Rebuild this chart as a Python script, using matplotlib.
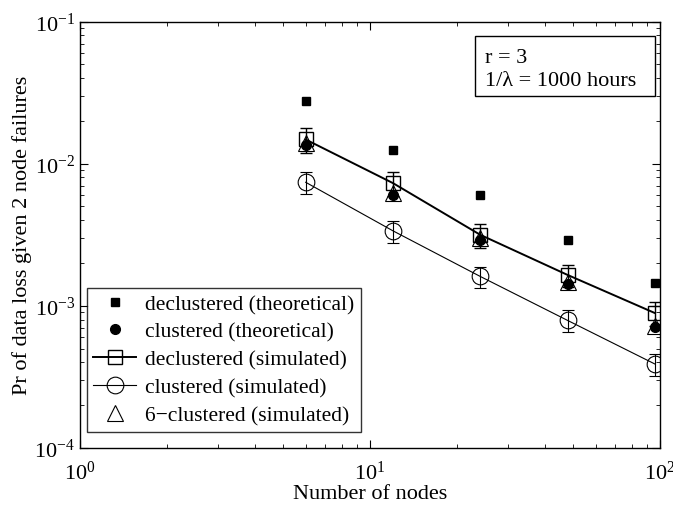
import numpy as np
import matplotlib
matplotlib.use("Agg")
import matplotlib.pyplot as plt
from matplotlib.lines import Line2D
from matplotlib.patches import Rectangle

plt.rcParams["font.family"] = ["Liberation Serif", "DejaVu Serif"]
plt.rcParams["mathtext.fontset"] = "stix"

# data
nodes = [6, 12, 24, 48, 96]
declust_theory = [0.0275, 0.0125, 0.0060, 0.0029, 0.00145]
clust_theory = [0.0136, 0.00605, 0.00292, 0.00143, 0.00071]
declust_sim = [0.0148, 0.0073, 0.00316, 0.00165, 0.00089]
declust_err = [0.0029, 0.0014, 0.0006, 0.0003, 0.00017]
clust_sim = [0.0074, 0.00337, 0.00161, 0.00079, 0.00039]
clust_err = [0.0013, 0.0006, 0.00028, 0.00014, 0.00007]
six_clust_sim = [0.0140, 0.0062, 0.0030, 0.00148, 0.00072]

labels = ["declustered (theoretical)", "clustered (theoretical)",
          "declustered (simulated)", "clustered (simulated)",
          "6\u2212clustered (simulated)"]

fig = plt.figure(figsize=(6.73, 5.06), dpi=100)
ax = fig.add_axes([0.1189, 0.1126, 0.8618, 0.8429])

ax.plot(nodes, declust_theory, "s", color="black", ms=6, ls="none")
ax.plot(nodes, clust_theory, "o", color="black", ms=7, ls="none")
ax.errorbar(nodes, declust_sim, yerr=declust_err, color="black", lw=1.4,
            marker="s", ms=10, mfc="none", mew=1.0, capsize=4.5, elinewidth=1.0)
ax.errorbar(nodes, clust_sim, yerr=clust_err, color="black", lw=0.8,
            marker="o", ms=12, mfc="none", mew=0.8, capsize=4.5, elinewidth=0.8)
ax.plot(nodes, six_clust_sim, "^", color="black", ms=11, mfc="none", mew=0.8,
        ls="none")

ax.set_xscale("log")
ax.set_yscale("log")
ax.set_xlim(1, 100)
ax.set_ylim(1e-4, 1e-1)
ax.tick_params(which="both", direction="in", top=True, right=True, labelsize=16)
ax.tick_params(which="major", length=6)
ax.tick_params(which="minor", length=3)
ax.tick_params(axis="x", pad=9)
for s in ax.spines.values():
    s.set_linewidth(1.0)

ax.set_xlabel("Number of nodes", fontsize=16, labelpad=0)
ax.set_ylabel("Pr of data loss given 2 node failures", fontsize=16, labelpad=2)

handles = [
    Line2D([], [], color="black", marker="s", ms=6, ls="none"),
    Line2D([], [], color="black", marker="o", ms=7, ls="none"),
    Line2D([], [], color="black", marker="s", ms=10, mfc="none", lw=1.4, mew=1.0),
    Line2D([], [], color="black", marker="o", ms=12, mfc="none", lw=0.8, mew=0.8),
    Line2D([], [], color="black", marker="^", ms=11, mfc="none", mew=0.8, ls="none"),
]
leg = ax.legend(handles, labels, loc="lower left", bbox_to_anchor=(0.012, 0.038),
                borderaxespad=0, fontsize=15.5, frameon=True, fancybox=False,
                edgecolor="black", handlelength=2.0, handletextpad=0.4,
                labelspacing=0.36, borderpad=0.3, numpoints=1)
leg.get_frame().set_linewidth(1.0)

ax.add_patch(Rectangle((0.681, 0.826), 0.31, 0.141, transform=ax.transAxes,
                       fc="white", ec="black", lw=1.0, zorder=5))
ax.text(0.698, 0.937, "r = 3\n1/\u03bb = 1000 hours", transform=ax.transAxes,
        ha="left", va="top", fontsize=16, linespacing=1.25, zorder=6)

fig.savefig("out.png", dpi=100)
